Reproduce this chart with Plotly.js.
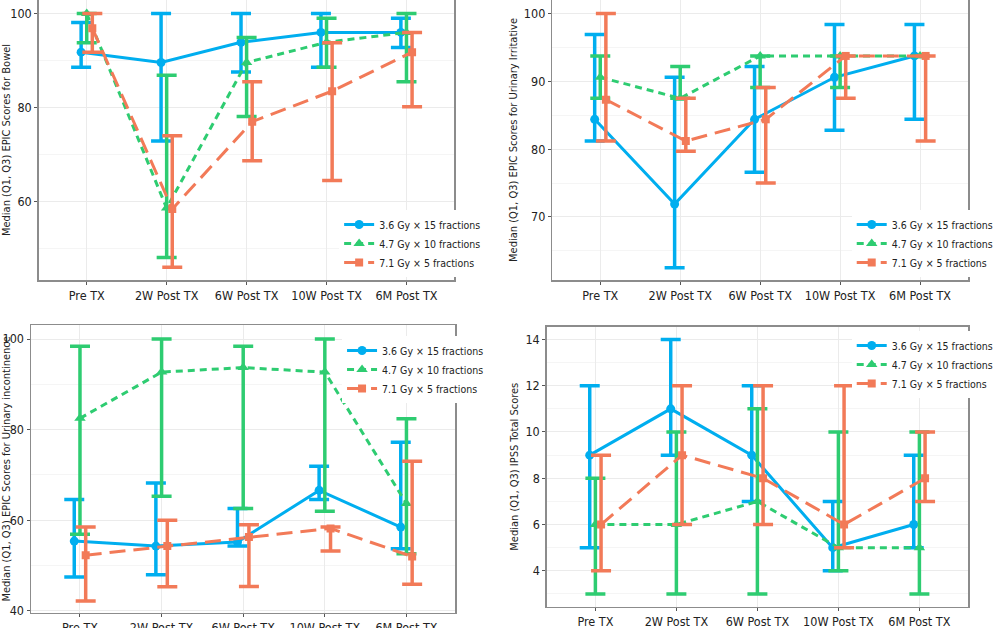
<!DOCTYPE html>
<html><head><meta charset="utf-8">
<script src="https://cdn.plot.ly/plotly-3.0.1.min.js"></script>
<style>html,body{margin:0;padding:0;background:#fff}#c{width:999px;height:628px}</style>
</head><body><div id="c"></div>
<script>
const categories = ['Pre TX','2W Post TX','6W Post TX','10W Post TX','6M Post TX'];
const seriesNames = ['3.6 Gy \u00d7 15 fractions','4.7 Gy \u00d7 10 fractions','7.1 Gy \u00d7 5 fractions'];

// Panel 1: Bowel
const bowelMed = [[91.8,89.6,93.9,96.0,96.0],[100,58.6,89.6,93.9,96.0],[96.9,58.4,77.0,83.5,91.8]];
const bowelQ1  = [[88.6,72.9,87.6,88.6,92.8],[93.8,48.1,78.1,88.6,85.5],[91.8,46.0,68.7,64.5,80.2]];
const bowelQ3  = [[98.1,100,100,100,99.0],[100,86.9,94.9,99.0,100],[100,74.0,85.5,93.8,96.0]];

// Panel 2: Urinary Irritative
const irrMed = [[84.4,71.9,84.4,90.6,93.75],[90.6,87.5,93.75,93.75,93.75],[87.3,81.2,84.4,93.75,93.75]];
const irrQ1  = [[81.2,62.5,76.6,82.8,84.4],[87.5,87.5,89.1,89.1,93.75],[81.2,79.7,75.0,87.5,81.2]];
const irrQ3  = [[96.9,90.6,92.2,98.4,98.4],[93.75,92.2,93.75,93.75,93.75],[100,87.5,89.1,93.75,93.75]];

// Panel 3: Urinary incontinence
const incMed = [[55.4,54.3,55.2,66.6,58.5],[82.5,92.7,93.7,92.7,63.7],[52.3,54.3,56.3,58.2,52.0]];
const incQ1  = [[47.5,48.0,54.3,64.6,53.7],[56.9,65.3,62.6,62.0,52.6],[42.2,45.3,45.4,53.2,45.9]];
const incQ3  = [[64.6,68.2,62.6,71.9,77.2],[98.4,100,98.4,100,82.4],[58.5,60.0,59.0,58.5,73.0]];

// Panel 4: IPSS
const ipssMed = [[9,11,9,5,6],[6,6,7,5,5],[6,9,8,6,8]];
const ipssQ1  = [[5,9,7,4,5],[3,3,3,4,3],[4,6,6,5,7]];
const ipssQ3  = [[12,14,12,7,9],[8,10,11,10,10],[9,12,12,12,10]];

const colors = ['#00AEEF','#2ECC71','#F27A58'];
const dashes = ['solid','7px,5px','16px,8px'];
const symbols = ['circle','triangle-up','square'];
const msizes = [9,10,8];
const dodge = [-0.07,0,0.07];

const panels = [
  {med:bowelMed,q1:bowelQ1,q3:bowelQ3,title:'Median (Q1, Q3) EPIC Scores for Bowel',range:[43.3,102.9],dtick:20,minor:10},
  {med:irrMed,q1:irrQ1,q3:irrQ3,title:'Median (Q1, Q3) EPIC Scores for Urinary Irritative',range:[60.7,102.0],dtick:10,minor:5},
  {med:incMed,q1:incQ1,q3:incQ3,title:'Median (Q1, Q3) EPIC Scores for Urinary incontinence',range:[39.6,103.1],dtick:20,minor:10},
  {med:ipssMed,q1:ipssQ1,q3:ipssQ3,title:'Median (Q1, Q3) IPSS Total Scores',range:[2.45,14.55],dtick:2,minor:1}
];

const W=999,H=628;
const boxes = [
  {x0:40,x1:469,y0:0,y1:280, leg:{x:350,y:210}},
  {x0:570,x1:999,y0:0,y1:280, leg:{x:879,y:210}},
  {x0:32,x1:470,y0:325,y1:612.7, leg:{x:353,y:336}},
  {x0:564.3,x1:999,y0:326.7,y1:606.7, leg:{x:879,y:331}}
];

const font = "'DejaVu Sans Condensed','DejaVu Sans',sans-serif";
const traces = [];
const layout = {
  width:W,height:H,margin:{l:0,r:0,t:0,b:0},
  paper_bgcolor:'#fff',plot_bgcolor:'#fff',
  font:{family:font,size:12,color:'#222'},
  showlegend:true
};

panels.forEach((p,pi)=>{
  const ax = pi===0?'':String(pi+1);
  const b = boxes[pi];
  for(let s=0;s<3;s++){
    const xs = categories.map((c,i)=>i+dodge[s]);
    traces.push({
      type:'scatter',mode:'lines+markers',
      x:xs,y:p.med[s],name:seriesNames[s],
      xaxis:'x'+ax,yaxis:'y'+ax,
      legend: pi===0?'legend':'legend'+(pi+1),
      line:{color:colors[s],width:3,dash:dashes[s]},
      marker:{color:colors[s],symbol:symbols[s],size:msizes[s]},
      error_y:{type:'data',symmetric:false,
        array:p.q3[s].map((v,i)=>v-p.med[s][i]),
        arrayminus:p.med[s].map((v,i)=>v-p.q1[s][i]),
        color:colors[s],thickness:3.5,width:10},
      hoverinfo:'skip'
    });
  }
  layout['xaxis'+ax] = {
    domain:[b.x0/W,b.x1/W],anchor:'y'+ax,range:[-0.6,4.6],
    tickvals:categories.map((c,i)=>i),ticktext:categories,tickangle:0,
    showgrid:true,gridcolor:'#ebebeb',gridwidth:1,zeroline:false,
    showline:true,mirror:true,linecolor:'#8c8c8c',linewidth:1.5,
    ticks:'outside',ticklen:3,tickcolor:'#555',tickfont:{size:12.5,color:'#222'}
  };
  layout['yaxis'+ax] = {
    domain:[1-b.y1/H,1-b.y0/H],anchor:'x'+ax,range:p.range,
    dtick:p.dtick,tick0:0,
    showgrid:true,gridcolor:'#ebebeb',gridwidth:1,zeroline:false,
    minor:{dtick:p.minor,tick0:0,showgrid:true,gridcolor:'#f5f5f5',gridwidth:1},
    showline:true,mirror:true,linecolor:'#8c8c8c',linewidth:1.5,
    ticks:'outside',ticklen:3,tickcolor:'#555',tickfont:{size:12.5,color:'#222'},
    title:{text:p.title,font:{size:11,color:'#222'},standoff:4}
  };
  layout[pi===0?'legend':'legend'+(pi+1)] = {
    x:b.leg.x/W,y:1-b.leg.y/H,xanchor:'left',yanchor:'top',
    bgcolor:'rgba(255,255,255,1)',borderwidth:0,
    font:{size:10.5,color:'#222'},itemwidth:30,tracegroupgap:0,
    itemclick:false
  };
});

Plotly.newPlot('c',traces,layout,{staticPlot:true,displayModeBar:false});
</script></body></html>
